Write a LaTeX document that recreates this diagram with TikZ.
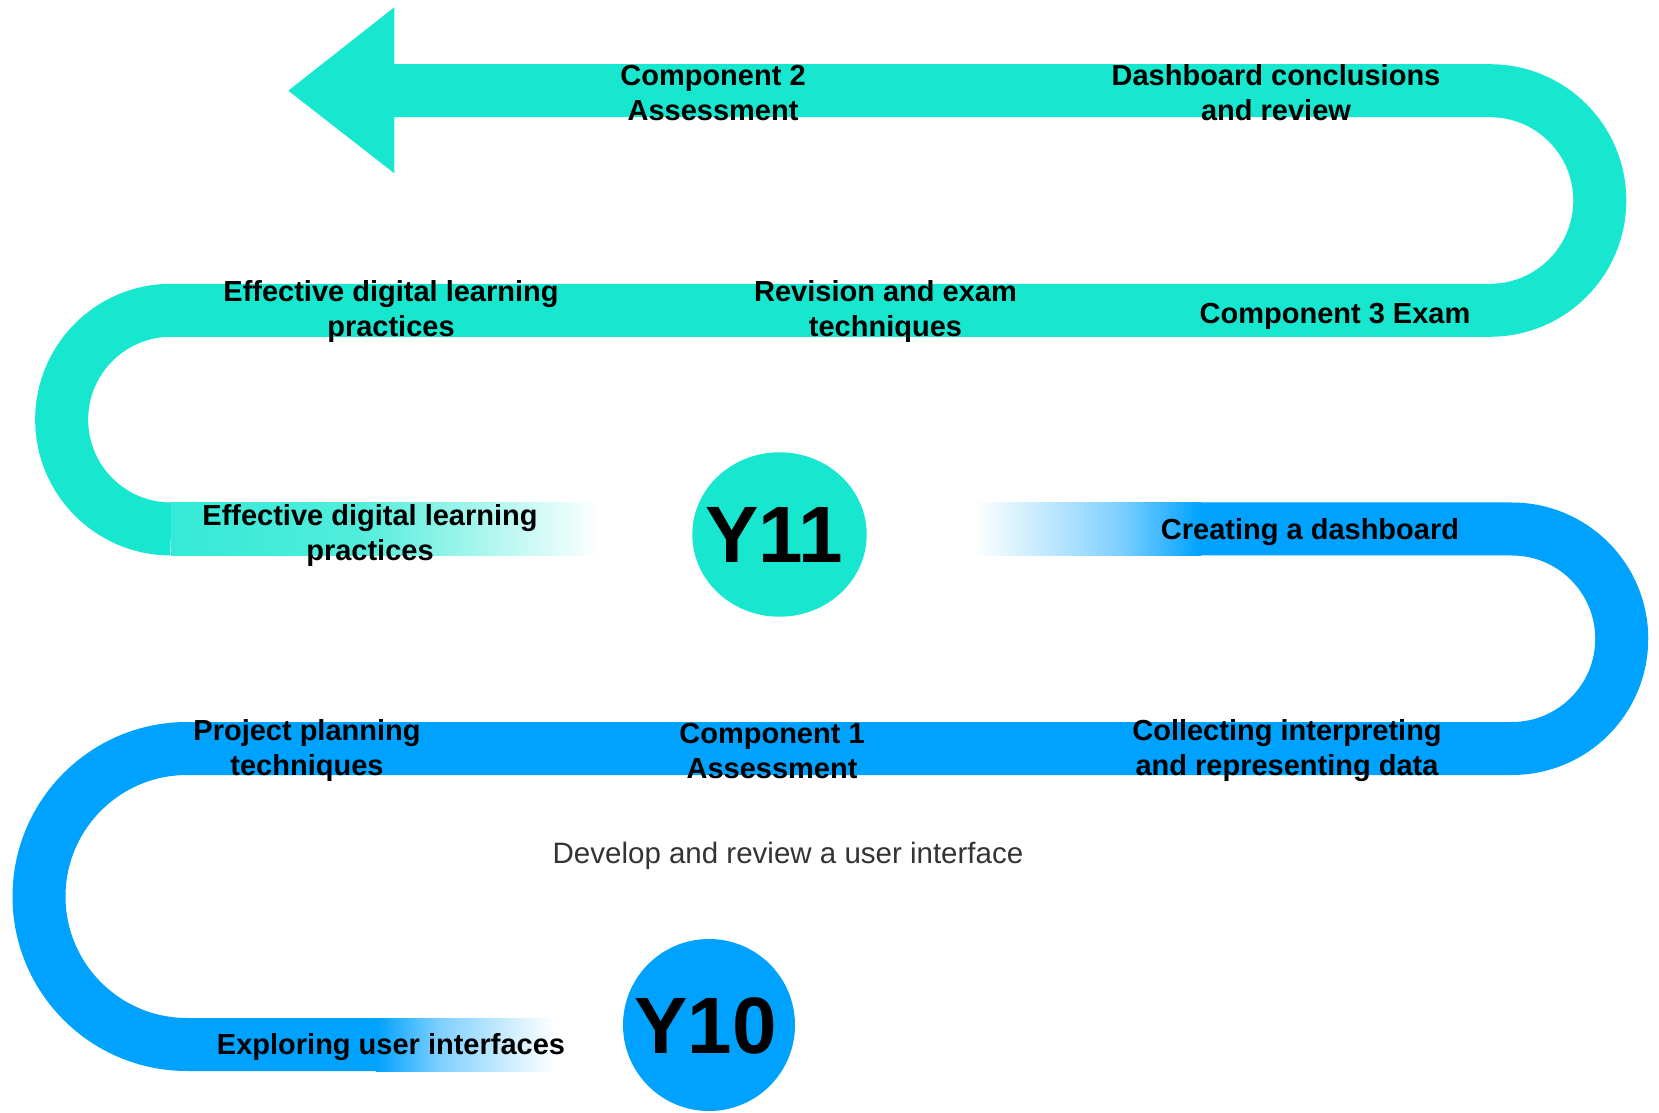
\documentclass[tikz,border=0pt]{standalone}
\usepackage{fontspec}
\setmainfont{Liberation Sans}
\usetikzlibrary{shapes.geometric}
\definecolor{tealc}{RGB}{24,231,208}
\definecolor{bluec}{RGB}{0,162,255}
\colorlet{tealA}{tealc!88!white}
\colorlet{tealB}{tealc!75!white}
\colorlet{tealC}{tealc!35!white}
\colorlet{blueA}{bluec!50!white}
\colorlet{blueB}{bluec!18!white}
% TikZ maps the path onto the 25bp..75bp window of a 100bp shading
\pgfdeclarehorizontalshading{tealfade}{100bp}{color(0bp)=(tealA); color(25bp)=(tealA); color(47bp)=(tealB); color(62bp)=(tealC); color(75bp)=(white); color(100bp)=(white)}
\pgfdeclarehorizontalshading{bluefadeL}{100bp}{color(0bp)=(white); color(25bp)=(white); color(37bp)=(blueB); color(57bp)=(blueA); color(75bp)=(bluec); color(100bp)=(bluec)}
\pgfdeclarehorizontalshading{bluefadeR}{100bp}{color(0bp)=(bluec); color(25bp)=(bluec); color(43bp)=(blueA); color(63bp)=(blueB); color(75bp)=(white); color(100bp)=(white)}
\begin{document}
\begin{tikzpicture}[x=1pt,y=1pt,
  lbl/.style={font=\fontsize{29}{35}\selectfont\bfseries, align=center, text=black, inner sep=0pt},
  yrlbl/.style={font=\fontsize{80}{80}\selectfont\bfseries, text=black, inner sep=0pt},
  band/.style={line width=53pt}]
\useasboundingbox (0,0) rectangle (1659,1112);
% teal route
\draw[band, tealc] (394,1021.3) -- (1490,1021.3)
  arc[start angle=90, end angle=-90, radius=109.8] -- (171,801.7)
  arc[start angle=90, end angle=270, radius=109.35];
\fill[tealc] (394.3,1104.7) -- (288.3,1021.3) -- (394.3,938.7) -- cycle;
\shade[shading=tealfade] (171,556.5) rectangle (600,609.5);
% blue route
\draw[band, bluec] (1200,583) -- (1512,583)
  arc[start angle=90, end angle=-90, radius=109.75] -- (187,363.5)
  arc[start angle=90, end angle=270, radius=148] -- (377,67.5);
\shade[shading=bluefadeL] (973,556.5) rectangle (1201,609.5);
\shade[shading=bluefadeR] (376,41) rectangle (555,94);
% year markers
\node[ellipse, fill=tealc, minimum width=174.4pt, minimum height=164.4pt, inner sep=0pt] (y11) at (779.5,577.5) {};
\node[yrlbl] (y11t) at (774,577) {Y11};
\node[circle, fill=bluec, minimum size=172pt, inner sep=0pt] (y10) at (709,87) {};
\node[yrlbl] (y10t) at (705.5,86.5) {Y10};
% labels
\node[lbl] (c2) at (713,1019) {Component 2\\Assessment};
\node[lbl] (dash) at (1276,1019) {Dashboard conclusions\\and review};
\node[lbl] (edl1) at (391,800) {Effective digital learning\\practices};
\node[lbl] (rev) at (885.5,800) {Revision and exam\\techniques};
\node[lbl] (c3) at (1335,796) {Component 3 Exam};
\node[lbl] (edl2) at (370,576) {Effective digital learning\\practices};
\node[lbl] (create) at (1310,580) {Creating a dashboard};
\node[lbl] (plan) at (307,361) {Project planning\\techniques};
\node[lbl] (c1) at (772,361) {Component 1\\Assessment};
\node[lbl] (collect) at (1287,361) {Collecting interpreting\\and representing data};
\node[font=\fontsize{29.5}{35}\selectfont, text=black!80, inner sep=0pt] (dev) at (788,256) {Develop and review a user interface};
\node[lbl] (explore) at (391,65) {Exploring user interfaces};
\end{tikzpicture}
\end{document}
